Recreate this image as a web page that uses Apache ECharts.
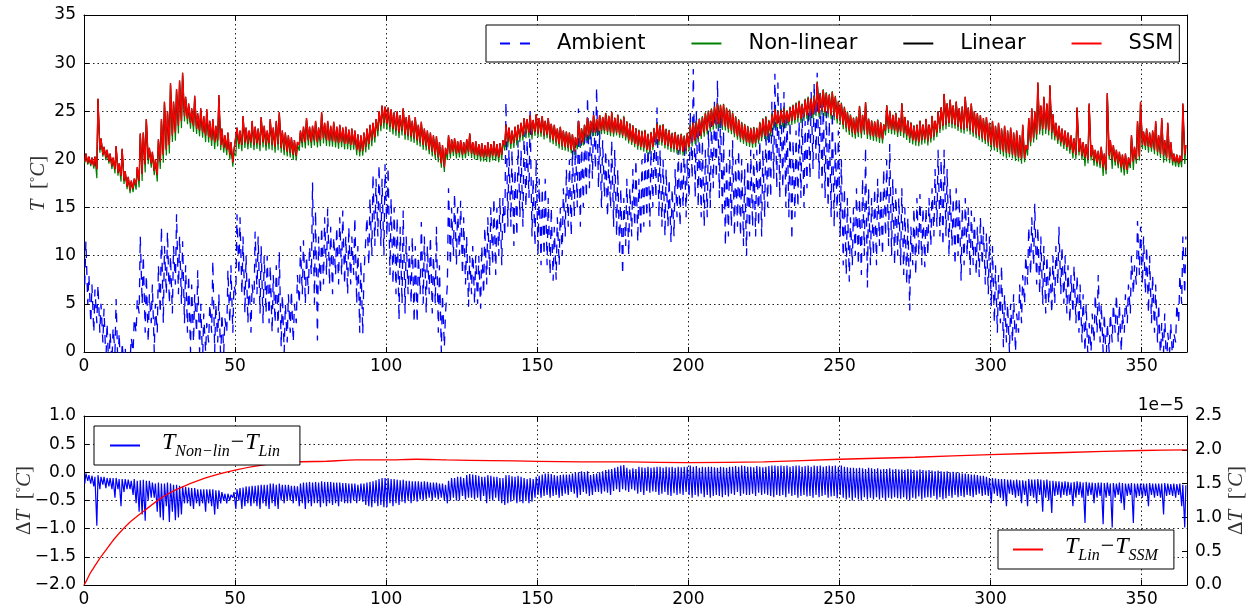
<!DOCTYPE html>
<html><head><meta charset="utf-8">
<script src="https://cdn.jsdelivr.net/npm/echarts@6/dist/echarts.min.js"></script>
<style>html,body{margin:0;padding:0;background:#fff}#c{width:1250px;height:610px}</style>
</head><body><div id="c"></div>
<script>
// ---- Data, one value per day ----
// Ambient temperature: daily low / daily high [°C]
const ambLo = [
 7,5,3,2,3,2,1,-1,-2,-1,
 0,-2,-3,-2,-3,-1,0,2,4,5,
 2,1,3,0,2,4,3,6,5,4,
 7,6,5,3,2,0,1,2,0,-1,
 0,1,2,0,1,-1,0,2,3,2,
 6,8,6,4,3,2,5,6,4,3,
 4,3,2,3,2,0.5,0,1,2,1,
 3,5,6,5,6,8,5,1.2,6,7,
 8,7,6,8,7,8,7,6,7,8,
 5,2,1.9,8,9,10,11,12,11,10,
 12,8,7,6,3.3,5,4,6,5,3,
 3,6,5,4,6,4,5,2,0,0.5,
 7,9,10,9,10,8,7,4.7,6,5,
 5,4.5,6,7,8,9,8,10,9,12,
 13,13,11,12,14,13,15,16,12,11,
 10,9,10,9,8,7.4,7.5,9,10,12,
 13,12,14,15,13,15,16,17,18,19,
 17,15,16,14,15,13,12,10,8,11,
 10,12,13,11.4,12,13,14,13,15,16,
 14,13,12,13,11.4,12,14,13,15,14,
 16,18,16,15,14,13,14,15,17,18,
 16,14,11,12,13,12,13,12,11,10,
 12,13,12,13,12,14,15,16,18,17,
 16,17,15,14,11.6,14,15,16,15,17,
 18,19,20,18,17,16,15,14,13,14,
 12,9,8,7.3,9,10,9,8,10,6.7,
 9,10,9,11,10,12,11,10,9,10,
 9,8,7,4.3,9,8,10,9,8.8,10,
 11,12,13,12,11,12,10,11,9,10,
 7.4,9,10,8,9,8,7.8,9,7,6,
 4.7,3,2,3,0.5,1,0,1,0,2,
 3,5,7,8,9,7,6,5,4,5,
 4,5,7,6,5,4,3,4,3,2,
 1,0,-1,0,1,2,1,0,-1,0,
 1,2,1,0,2,3,4,6,7,8,
 7,6,4,3,2,1,-1,0,-2,0,
 -1,1,3,5,6
];
const ambHi = [
 11.5,8,7,6.5,7,5,4.5,3,2,2.5,
 5.5,2,1,0.5,0.3,1.5,3.5,5.5,12,10,
 8,6,7,5,9,13,11,12.5,10,11,
 14.3,12,11.5,9,8,7,6,8.5,5,4,
 3,5,9.5,5,6,4,3.5,8.5,9,7,
 14.3,14,12,10,8,7,12.5,12,11,10,
 10,9,8,9,10.4,6,5,6,6.4,5,
 8,11,11.6,10,11,17.6,14.7,12,13,14,
 14.9,13,12,13,14,14.7,12,13,12,14,
 11,9.5,8,14,16,18.5,18,19.5,18,19.5,
 19.2,16,15,14,13,14.7,12,11,12,11,
 10,13.5,12,11,12,10,13,9,6,4,
 17,15,16.5,15,15.7,14,12,10,11,10,
 10,11,13,14,15,16,15,16,16,26,
 21,21,19,22,21,23,22,25,18,20,
 18,17,18,16,15,13,14,15,17,19,
 20,21,22,25.3,22,23,26.5,24,25,27.5,
 23,22,21,20,22,21,19,17,16,18,
 17,19,20,18,20,21,22,21,23,25.4,
 21,20,19,18,17,19,21,20,22,20,
 25,29.4,25,23,22,21,23,24,26,28.2,
 25,23,20,21,22,20,21,20,19,20,
 21,20.6,21,22,21,23,24,26,28.9,28,
 26,27,25,24,22,23,24,25,24,26,
 27,28,29,27,26,25,24,25,22,23,
 20,17,16,14,15,17,16,18,21.3,17,
 16,17,18,17,19,20,21.6,18,17,16,
 17,15,14,13,15,16,16.4,15,15,16,
 17,19,21,20,21,19,17,16,17,16,
 15,16,15,14.7,14,13,14,13,12.3,12,
 11,9,8,9,6,5,5,6,4,7,
 8,10,13,14,15.4,13,12,11,10,9,
 10,11,13,11,10,9,8,9,8,7,
 6,5,3,4,6,8,5,4,3,4,
 5,6,5,4,6,7,10,9,13.6,13,
 12,11,10,8,7,5,3,4,2,3,
 2,5,8,12,12
];
// SSM indoor temperature: daily low / daily high [°C]
const ssmLo = [
 19.8,19.6,19.5,19.3,19.0,21.0,20.5,20.2,19.8,19.3,
 19.0,18.6,18.3,17.8,17.2,16.8,17.0,17.4,17.8,18.5,
 19.5,20.0,19.6,18.8,18.4,19.8,20.5,21.0,21.5,22.5,
 22.8,23.5,24.0,24.5,24.2,23.8,23.5,23.2,23.0,22.8,
 22.5,22.3,22.0,21.8,22.0,21.5,21.2,21.0,20.5,19.7,
 21.0,21.6,21.5,21.8,21.6,21.8,21.5,21.7,21.5,21.8,
 21.5,21.7,21.5,21.3,21.6,21.2,21.0,20.8,20.7,20.5,
 20.4,21.5,21.8,21.8,22.0,21.8,22.0,21.8,22.0,22.2,
 22.0,21.9,21.9,21.8,21.7,21.8,21.6,21.6,21.5,21.5,
 21.0,20.8,20.9,21.3,21.6,22.0,22.3,23.0,23.5,23.8,
 23.7,23.4,23.2,23.0,22.8,23.0,22.6,22.5,22.4,22.2,
 22.0,21.8,21.5,21.4,21.0,20.8,20.5,20.2,19.6,19.2,
 20.5,20.6,20.8,20.6,20.7,20.5,20.6,20.8,20.6,20.5,
 20.4,20.3,20.2,20.3,20.2,20.4,20.3,20.2,20.5,21.5,
 21.8,21.6,21.7,22.0,22.3,22.5,22.7,22.8,22.6,22.9,
 22.7,22.8,22.5,22.6,22.2,22.0,21.8,21.6,21.4,21.3,
 21.2,21.0,20.8,21.5,21.6,21.8,22.3,22.5,22.8,22.8,
 22.9,23.0,23.0,22.9,22.8,22.7,22.8,22.6,22.5,22.3,
 22.0,21.8,21.6,21.4,21.3,21.2,21.0,20.9,21.3,21.8,
 21.9,21.8,21.5,21.4,21.2,21.1,21.0,20.9,20.8,20.9,
 21.3,21.8,22.0,22.2,22.5,22.8,23.0,23.3,23.5,23.6,
 23.7,23.5,23.4,23.2,23.0,22.7,22.4,22.2,22.0,21.8,
 21.7,21.6,21.7,22.0,22.3,22.5,22.4,22.8,23.5,23.7,
 23.6,23.8,23.7,23.9,24.0,24.1,24.3,24.2,24.4,24.6,
 24.5,24.7,24.9,24.8,25.0,24.9,24.8,24.6,24.5,24.2,
 24.0,23.6,23.3,23.0,22.8,22.6,22.8,22.7,23.0,22.6,
 22.5,22.4,22.3,22.2,22.1,23.0,23.2,23.1,23.0,22.8,
 22.9,22.7,22.5,22.2,22.0,21.9,21.8,22.0,22.1,21.9,
 22.2,22.4,22.8,23.2,23.5,23.6,23.8,23.7,23.6,23.4,
 23.2,23.1,23.3,23.0,22.8,22.6,22.4,22.2,22.0,21.8,
 21.5,21.3,21.2,21.0,20.8,20.7,20.6,20.5,20.3,20.2,
 20.1,20.1,21.0,21.8,22.2,22.6,23.0,23.2,23.1,23.0,
 22.8,22.4,22.0,21.8,21.5,21.3,21.0,20.7,20.5,20.8,
 20.4,20.2,20.0,20.3,19.9,19.7,19.5,19.2,18.9,20.4,
 20.0,19.8,19.5,19.2,19.0,18.9,19.5,19.8,20.0,20.3,
 21.5,21.4,21.3,21.2,21.0,20.8,20.6,20.4,20.2,20.0,
 19.8,19.7,19.6,19.8,20.5
];
const ssmHi = [
 20.6,20.3,20.2,20.3,26.3,22.2,21.3,21.0,20.6,20.2,
 21.4,19.6,21.1,18.8,18.2,17.8,18.0,19.2,22.7,22.8,
 24.2,21.2,20.8,20.0,22.1,24.2,26.0,25.0,27.9,26.0,
 27.3,28.2,29.0,26.5,25.8,25.3,26.6,24.8,25.3,24.5,
 25.2,24.0,24.2,23.5,26.7,23.2,22.5,22.8,21.8,21.0,
 23.3,23.0,24.5,23.3,23.0,24.0,23.4,23.2,24.4,23.5,
 23.0,24.2,23.3,24.0,24.9,23.0,22.8,22.5,22.3,22.0,
 21.8,23.0,23.4,24.3,23.4,23.5,24.0,23.3,24.9,23.8,
 24.0,23.5,23.9,23.4,23.6,23.3,23.4,23.1,23.2,23.0,
 22.6,22.5,22.8,23.2,23.6,23.8,24.2,25.0,25.6,25.5,
 25.4,25.2,24.9,25.0,24.6,25.3,24.4,24.6,24.0,24.4,
 23.6,23.9,23.2,23.0,22.8,22.5,22.4,21.8,21.5,21.2,
 22.5,22.1,22.2,21.9,22.0,21.8,22.1,22.7,21.8,21.9,
 21.6,21.7,21.5,21.8,21.6,21.9,21.6,21.7,22.0,23.6,
 23.3,23.0,23.4,23.6,23.8,24.3,24.2,24.6,24.1,24.7,
 24.3,24.5,24.0,24.3,23.7,23.6,23.2,23.4,23.0,22.9,
 22.8,22.6,22.3,24.0,23.2,23.6,24.3,24.0,24.6,24.2,
 24.6,24.4,24.8,24.5,24.9,24.3,24.6,24.1,24.4,23.9,
 23.7,23.5,23.2,23.0,22.9,23.0,22.6,22.8,23.2,23.7,
 23.5,23.6,23.1,23.0,22.7,22.8,22.5,22.6,22.4,22.7,
 23.5,23.8,23.9,24.2,24.4,24.8,25.0,25.2,25.5,25.8,
 25.6,25.7,25.3,25.1,24.8,24.4,24.1,23.8,23.6,23.4,
 23.2,23.3,23.2,23.8,24.2,24.4,24.0,24.7,25.2,25.0,
 25.1,25.3,25.0,25.4,25.6,25.8,26.0,25.7,26.2,26.4,
 26.3,26.6,28.0,26.8,27.2,26.9,26.7,27.0,26.5,26.0,
 25.8,25.4,24.9,24.6,24.3,24.4,25.5,24.6,25.9,24.2,
 24.0,23.9,24.1,23.8,23.6,25.6,25.0,24.6,24.8,24.3,
 25.8,24.4,24.0,23.8,23.5,23.6,24.0,23.6,24.2,23.6,
 24.5,24.0,25.0,25.4,26.8,25.8,26.2,25.6,26.0,25.3,
 25.5,26.5,25.4,25.8,25.0,24.8,24.6,24.3,24.4,23.8,
 24.0,23.5,23.8,23.2,23.5,23.0,23.3,22.8,23.0,22.5,
 23.6,21.5,24.3,25.3,25.0,28.0,25.6,26.5,25.8,27.7,
 24.7,23.8,23.5,23.2,23.0,22.8,22.5,22.2,25.4,22.2,
 21.8,21.6,25.8,21.5,21.0,20.9,21.3,20.6,26.9,22.0,
 21.5,21.0,20.8,20.5,20.6,20.2,22.5,21.3,24.0,26.0,
 22.9,23.2,22.8,23.0,24.0,22.5,24.3,22.0,23.8,21.8,
 20.6,20.5,20.4,25.8,21.5
];
// T_Non-lin − T_Lin [°C]: daily lower / upper values
const diffLo = [
 -0.2,-0.15,-0.2,-0.25,-0.95,-0.3,-0.22,-0.28,-0.25,-0.3,
 -0.45,-0.3,-0.6,-0.35,-0.3,-0.3,-0.4,-0.55,-0.7,-0.75,
 -0.86,-0.5,-0.45,-0.45,-0.7,-0.8,-0.85,-0.6,-0.88,-0.7,
 -0.85,-0.8,-0.75,-0.55,-0.55,-0.6,-0.65,-0.55,-0.6,-0.55,
 -0.7,-0.55,-0.6,-0.75,-0.65,-0.55,-0.5,-0.55,-0.5,-0.45,
 -0.65,-0.5,-0.65,-0.6,-0.55,-0.6,-0.55,-0.6,-0.65,-0.55,
 -0.6,-0.65,-0.55,-0.6,-0.65,-0.5,-0.55,-0.5,-0.5,-0.55,
 -0.5,-0.6,-0.55,-0.65,-0.55,-0.6,-0.55,-0.55,-0.62,-0.55,
 -0.6,-0.55,-0.58,-0.55,-0.6,-0.52,-0.55,-0.55,-0.55,-0.5,
 -0.55,-0.5,-0.52,-0.58,-0.6,-0.62,-0.55,-0.6,-0.58,-0.62,
 -0.62,-0.55,-0.6,-0.55,-0.58,-0.52,-0.55,-0.5,-0.55,-0.5,
 -0.52,-0.48,-0.5,-0.48,-0.45,-0.5,-0.45,-0.48,-0.45,-0.5,
 -0.55,-0.5,-0.45,-0.5,-0.5,-0.42,-0.48,-0.45,-0.45,-0.48,
 -0.45,-0.5,-0.42,-0.55,-0.48,-0.5,-0.45,-0.5,-0.55,-0.58,
 -0.55,-0.52,-0.5,-0.55,-0.52,-0.55,-0.5,-0.55,-0.52,-0.45,
 -0.4,-0.45,-0.42,-0.4,-0.45,-0.42,-0.4,-0.45,-0.42,-0.38,
 -0.4,-0.35,-0.38,-0.45,-0.4,-0.35,-0.38,-0.42,-0.4,-0.35,
 -0.35,-0.38,-0.34,-0.36,-0.4,-0.33,-0.3,-0.35,-0.3,-0.32,
 -0.35,-0.3,-0.32,-0.38,-0.35,-0.4,-0.33,-0.36,-0.34,-0.35,
 -0.4,-0.38,-0.35,-0.4,-0.42,-0.37,-0.4,-0.38,-0.4,-0.35,
 -0.4,-0.45,-0.4,-0.43,-0.38,-0.44,-0.4,-0.45,-0.42,-0.4,
 -0.42,-0.44,-0.4,-0.43,-0.38,-0.4,-0.35,-0.42,-0.38,-0.4,
 -0.4,-0.38,-0.42,-0.36,-0.4,-0.38,-0.4,-0.42,-0.44,-0.4,
 -0.42,-0.4,-0.44,-0.38,-0.42,-0.4,-0.45,-0.42,-0.4,-0.43,
 -0.42,-0.45,-0.4,-0.44,-0.42,-0.4,-0.45,-0.43,-0.42,-0.46,
 -0.4,-0.45,-0.48,-0.45,-0.5,-0.45,-0.48,-0.5,-0.44,-0.48,
 -0.45,-0.48,-0.44,-0.48,-0.45,-0.5,-0.45,-0.47,-0.44,-0.46,
 -0.47,-0.44,-0.48,-0.5,-0.45,-0.47,-0.43,-0.48,-0.45,-0.44,
 -0.45,-0.42,-0.48,-0.44,-0.48,-0.46,-0.42,-0.45,-0.4,-0.44,
 -0.42,-0.44,-0.4,-0.42,-0.44,-0.4,-0.38,-0.42,-0.4,-0.42,
 -0.55,-0.38,-0.42,-0.45,-0.5,-0.6,-0.38,-0.4,-0.45,-0.42,
 -0.55,-0.4,-0.6,-0.42,-0.45,-0.55,-0.4,-0.7,-0.45,-0.5,
 -0.72,-0.42,-0.4,-0.45,-0.4,-0.42,-0.4,-0.6,-0.45,-0.4,
 -0.45,-0.9,-0.42,-0.4,-0.55,-0.45,-0.42,-0.92,-0.45,-0.42,
 -0.98,-0.45,-0.4,-0.55,-0.67,-0.42,-0.4,-0.9,-0.45,-0.42,
 -0.45,-0.42,-0.6,-0.4,-0.45,-0.42,-0.45,-0.75,-0.42,-0.4,
 -0.42,-0.45,-0.4,-0.6,-0.98
];
const diffHi = [
 -0.02,-0.05,-0.06,-0.08,-0.05,-0.08,-0.08,-0.1,-0.1,-0.1,
 -0.1,-0.12,-0.12,-0.12,-0.13,-0.15,-0.12,-0.15,-0.14,-0.13,
 -0.15,-0.15,-0.18,-0.2,-0.18,-0.2,-0.2,-0.18,-0.2,-0.22,
 -0.22,-0.24,-0.25,-0.26,-0.27,-0.28,-0.28,-0.3,-0.3,-0.3,
 -0.3,-0.3,-0.3,-0.32,-0.32,-0.35,-0.38,-0.38,-0.4,-0.35,
 -0.3,-0.28,-0.27,-0.25,-0.25,-0.24,-0.24,-0.23,-0.22,-0.22,
 -0.22,-0.2,-0.2,-0.22,-0.2,-0.22,-0.22,-0.22,-0.24,-0.24,
 -0.25,-0.2,-0.18,-0.18,-0.17,-0.18,-0.17,-0.18,-0.16,-0.17,
 -0.17,-0.17,-0.18,-0.18,-0.18,-0.19,-0.19,-0.2,-0.2,-0.2,
 -0.22,-0.2,-0.2,-0.18,-0.17,-0.16,-0.14,-0.12,-0.1,-0.1,
 -0.1,-0.12,-0.12,-0.13,-0.14,-0.13,-0.15,-0.15,-0.16,-0.16,
 -0.16,-0.17,-0.16,-0.17,-0.18,-0.18,-0.18,-0.2,-0.2,-0.22,
 -0.15,-0.1,-0.1,-0.08,-0.08,-0.1,-0.05,-0.03,-0.04,-0.05,
 -0.06,-0.08,-0.08,-0.05,-0.06,-0.08,-0.08,-0.1,-0.1,-0.05,
 -0.05,-0.07,-0.08,-0.06,-0.08,-0.1,-0.12,-0.1,-0.12,-0.08,
 -0.06,-0.04,-0.02,-0.02,-0.03,-0.05,-0.06,-0.05,-0.04,-0.04,
 -0.04,-0.02,-0.01,0.0,0.02,0.0,0.02,-0.05,-0.03,-0.02,
 0.0,0.02,0.04,0.05,0.06,0.08,0.1,0.12,0.13,0.08,
 0.05,0.07,0.06,0.1,0.09,0.08,0.1,0.08,0.09,0.1,
 0.1,0.08,0.1,0.09,0.1,0.08,0.1,0.09,0.1,0.1,
 0.12,0.1,0.11,0.08,0.1,0.09,0.1,0.1,0.09,0.08,
 0.1,0.09,0.08,0.1,0.1,0.11,0.1,0.12,0.11,0.1,
 0.1,0.09,0.11,0.1,0.09,0.1,0.11,0.12,0.12,0.11,
 0.12,0.11,0.12,0.1,0.11,0.12,0.12,0.1,0.11,0.12,
 0.1,0.12,0.11,0.12,0.1,0.11,0.12,0.11,0.12,0.1,
 0.12,0.1,0.09,0.08,0.08,0.07,0.08,0.07,0.06,0.08,
 0.07,0.06,0.07,0.05,0.06,0.06,0.07,0.05,0.06,0.05,
 0.05,0.04,0.06,0.05,0.04,0.03,0.05,0.04,0.03,0.04,
 0.03,0.02,0.03,0.02,0.01,0.02,0.0,0.01,0.0,-0.01,
 -0.02,-0.02,-0.03,-0.04,-0.04,-0.05,-0.06,-0.06,-0.08,-0.1,
 -0.1,-0.11,-0.12,-0.12,-0.12,-0.13,-0.13,-0.14,-0.13,-0.14,
 -0.14,-0.15,-0.12,-0.13,-0.13,-0.12,-0.13,-0.14,-0.13,-0.15,
 -0.15,-0.16,-0.16,-0.17,-0.16,-0.17,-0.18,-0.17,-0.16,-0.17,
 -0.18,-0.17,-0.18,-0.18,-0.19,-0.18,-0.18,-0.19,-0.18,-0.2,
 -0.19,-0.2,-0.18,-0.19,-0.2,-0.2,-0.19,-0.2,-0.2,-0.2,
 -0.2,-0.2,-0.19,-0.2,-0.2,-0.2,-0.2,-0.19,-0.2,-0.21,
 -0.2,-0.21,-0.2,-0.22,-0.23
];
// T_Lin − T_SSM, in units of 1e-5 °C (smooth curve, right axis)
const linSsmDays = [0,1,2,3,5,7,10,15,20,25,30,40,50,60,70,80,90,100,110,120,135,150,165,180,200,225,250,275,300,325,350,365];
const linSsmVals = [0,0.08,0.17,0.24,0.38,0.50,0.68,0.92,1.10,1.27,1.40,1.58,1.70,1.78,1.82,1.83,1.85,1.85,1.86,1.85,1.84,1.83,1.82,1.82,1.81,1.82,1.86,1.89,1.93,1.96,1.99,2.0];

// ---- build series data ----
const LO_T = 0.25, HI_T = 0.625; // time of day of daily low / high samples
function zig(lo, hi) {
  const out = [];
  for (let d = 0; d < lo.length; d++) { out.push([d + LO_T, lo[d]]); out.push([d + HI_T, hi[d]]); }
  return out;
}
const ambient = zig(ambLo, ambHi);
const ssm = zig(ssmLo, ssmHi);
const linear = ssm.map(p => [p[0], p[1]]); // T_Lin differs from T_SSM by ~2e-5 °C only
const nonlin = [];
for (let d = 0; d < ssmLo.length; d++) {
  nonlin.push([d + LO_T, ssmLo[d] + diffLo[d]]);
  nonlin.push([d + HI_T, ssmHi[d] + diffHi[d]]);
}
const diff = zig(diffLo, diffHi);
const linSsm = linSsmDays.map((d, i) => [d, linSsmVals[i]]);

const FONT = 'DejaVu Sans';
const SERIF = 'Liberation Serif';
const tickLbl = {fontFamily: FONT, fontSize: 17, color: '#000'};
const axLine = {show: true, onZero: false, lineStyle: {color: '#000', width: 1}};
const axTick = {show: true, inside: true, length: 5, lineStyle: {color: '#000'}};
const grid = {show: true, lineStyle: {color: '#222', width: 1, type: [1.5, 3]}};
const nameRich = {
  i: {fontFamily: SERIF, fontStyle: 'italic', fontSize: 21, color: '#333'},
  n: {fontFamily: SERIF, fontSize: 21, color: '#333'},
  sup: {fontFamily: SERIF, fontSize: 13, color: '#333', verticalAlign: 'top', padding: [0, 0, 8, 0]}
};
const minusFmt = v => (v < 0 ? '\u2212' : '') + Math.abs(v).toFixed(1);
const xLbl = Object.assign({margin: 6, showMaxLabel: false}, tickLbl);

const legRich = {
  t: {fontFamily: SERIF, fontStyle: 'italic', fontSize: 24, color: '#000', verticalAlign: 'bottom', padding: [0, 0, 5, 0]},
  s: {fontFamily: SERIF, fontStyle: 'italic', fontSize: 16, color: '#000', verticalAlign: 'bottom'},
  m: {fontFamily: SERIF, fontSize: 24, color: '#000', verticalAlign: 'bottom', padding: [0, 1, 5, 1]}
};
const DASH_ICON = 'path://M0,0H10V2H0Z M20,0H30V2H20Z';
const legBox = {borderColor: '#000', borderWidth: 1, borderRadius: 0, backgroundColor: '#fff', selectedMode: false,
  itemWidth: 30, itemHeight: 2};

const chart = echarts.init(document.getElementById('c'), null, {renderer: 'canvas'});
chart.setOption({
  animation: false,
  backgroundColor: '#fff',
  grid: [
    {left: 84, right: 63, top: 15, height: 337, outerBoundsMode: 'none', containLabel: false},
    {left: 84, right: 63, top: 416, height: 169, outerBoundsMode: 'none', containLabel: false}
  ],
  xAxis: [
    {gridIndex: 0, type: 'value', min: 0, max: 365, interval: 50, position: 'bottom',
     axisLine: axLine, axisTick: axTick, axisLabel: xLbl, splitLine: grid},
    {gridIndex: 0, type: 'value', min: 0, max: 365, interval: 50, position: 'top',
     axisLine: axLine, axisTick: axTick, axisLabel: {show: false}, splitLine: {show: false}},
    {gridIndex: 1, type: 'value', min: 0, max: 365, interval: 50, position: 'bottom',
     axisLine: axLine, axisTick: axTick, axisLabel: xLbl, splitLine: grid},
    {gridIndex: 1, type: 'value', min: 0, max: 365, interval: 50, position: 'top',
     axisLine: axLine, axisTick: axTick, axisLabel: {show: false}, splitLine: {show: false}}
  ],
  yAxis: [
    {gridIndex: 0, type: 'value', min: 0, max: 35, interval: 5, position: 'left',
     axisLine: axLine, axisTick: axTick, axisLabel: Object.assign({margin: 8}, tickLbl), splitLine: grid,
     name: '{i|T}{n|  [}{sup|°}{i|C}{n|]}', nameLocation: 'middle', nameRotate: 90, nameGap: 35,
     nameMoveOverlap: false, nameTextStyle: {rich: nameRich}},
    {gridIndex: 0, type: 'value', min: 0, max: 35, interval: 5, position: 'right',
     axisLine: axLine, axisTick: axTick, axisLabel: {show: false}, splitLine: {show: false}},
    {gridIndex: 1, type: 'value', min: -2, max: 1, interval: 0.5, position: 'left',
     axisLine: axLine, axisTick: axTick, axisLabel: Object.assign({margin: 8, formatter: minusFmt}, tickLbl), splitLine: grid,
     name: '{n|Δ}{i|T}{n|  [}{sup|°}{i|C}{n|]}', nameLocation: 'middle', nameRotate: 90, nameGap: 49,
     nameMoveOverlap: false, nameTextStyle: {rich: nameRich}},
    {gridIndex: 1, type: 'value', min: 0, max: 2.5, interval: 0.5, position: 'right',
     axisLine: axLine, axisTick: axTick, axisLabel: Object.assign({margin: 8, formatter: v => v.toFixed(1)}, tickLbl), splitLine: {show: false},
     name: '{n|Δ}{i|T}{n|  [}{sup|°}{i|C}{n|]}', nameLocation: 'middle', nameRotate: 90, nameGap: 39,
     nameMoveOverlap: false, nameTextStyle: {rich: nameRich}}
  ],
  legend: [
    Object.assign({}, legBox, {
      data: [{name: 'Ambient', icon: DASH_ICON}, {name: 'Non-linear', icon: 'rect'}, {name: 'Linear', icon: 'rect'}, {name: 'SSM', icon: 'rect'}],
      left: 486, top: 25, orient: 'horizontal', itemGap: 46, padding: [6, 6, 6, 14],
      textStyle: {fontFamily: FONT, fontSize: 21, color: '#000', padding: [0, 0, 0, 22], lineHeight: 25}}),
    Object.assign({}, legBox, {
      data: [{name: 'nonlinDiff', icon: 'rect'}], left: 94, top: 426, padding: [5, 20, 5, 16],
      formatter: () => '{t|T}{s|Non\u2212lin}{m|\u2212}{t|T}{s|Lin}',
      textStyle: {padding: [0, 0, 0, 17], rich: legRich}}),
    Object.assign({}, legBox, {
      data: [{name: 'linSsmDiff', icon: 'rect'}], left: 998, top: 530, padding: [5, 16, 5, 15],
      formatter: () => '{t|T}{s|Lin}{m|\u2212}{t|T}{s|SSM}',
      textStyle: {padding: [0, 0, 0, 17], rich: legRich}})
  ],
  graphic: [
    {type: 'text', right: 66, top: 397, style: {text: '1e\u22125', fontFamily: FONT, fontSize: 17, fill: '#000'}}
  ],
  series: [
    {name: 'Ambient', type: 'line', xAxisIndex: 0, yAxisIndex: 0, data: ambient, symbol: 'none', silent: true,
     lineStyle: {color: '#0000ff', width: 1.3, type: [9, 8]}, itemStyle: {color: '#0000ff'}},
    {name: 'Non-linear', type: 'line', xAxisIndex: 0, yAxisIndex: 0, data: nonlin, symbol: 'none', silent: true,
     lineStyle: {color: '#008000', width: 1.2}, itemStyle: {color: '#008000'}},
    {name: 'Linear', type: 'line', xAxisIndex: 0, yAxisIndex: 0, data: linear, symbol: 'none', silent: true,
     lineStyle: {color: '#000000', width: 1.2}, itemStyle: {color: '#000000'}},
    {name: 'SSM', type: 'line', xAxisIndex: 0, yAxisIndex: 0, data: ssm, symbol: 'none', silent: true,
     lineStyle: {color: '#ff0000', width: 1.3}, itemStyle: {color: '#ff0000'}},
    {name: 'nonlinDiff', type: 'line', xAxisIndex: 2, yAxisIndex: 2, data: diff, symbol: 'none', silent: true,
     lineStyle: {color: '#0000ff', width: 1.2}, itemStyle: {color: '#0000ff'}},
    {name: 'linSsmDiff', type: 'line', xAxisIndex: 2, yAxisIndex: 3, data: linSsm, symbol: 'none', silent: true, smooth: 0.2,
     lineStyle: {color: '#ff0000', width: 1.3}, itemStyle: {color: '#ff0000'}}
  ]
});
</script>
</body></html>
